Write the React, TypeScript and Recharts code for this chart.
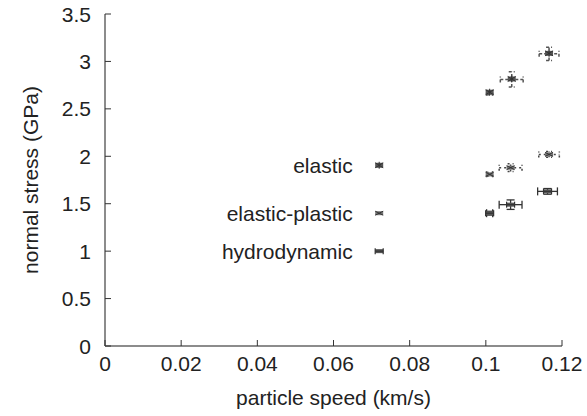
import { ScatterChart, Scatter, XAxis, YAxis, ErrorBar, LabelList } from 'recharts';

const X_TICKS = [0, 0.02, 0.04, 0.06, 0.08, 0.1, 0.12];
const Y_TICKS = [0, 0.5, 1, 1.5, 2, 2.5, 3, 3.5];

const ELASTIC_X = [0.101, 0.1068, 0.1166];
const ELASTIC_Y = [2.67, 2.81, 3.08];
const ELASTIC_XERR = [0.0008, 0.003, 0.0026];
const ELASTIC_YERR = [0.02, 0.08, 0.07];

const PLASTIC_X = [0.101, 0.1065, 0.1166];
const PLASTIC_Y = [1.81, 1.88, 2.02];
const PLASTIC_XERR = [0.0008, 0.003, 0.0027];
const PLASTIC_YERR = [0.02, 0.04, 0.03];

const HYDRO_X = [0.101, 0.1065, 0.1162];
const HYDRO_Y = [1.4, 1.49, 1.63];
const HYDRO_XERR = [0.0008, 0.003, 0.0026];
const HYDRO_YERR = [0.02, 0.05, 0.03];

const KEY_LABELS = ['elastic', 'elastic-plastic', 'hydrodynamic'];
const KEY_X = 0.072;
const KEY_Y = [1.9, 1.4, 1.0];

const FONT = '"Liberation Sans", Arial, sans-serif';
const FS = 21;
const TEXT = '#222';
const AXIS = '#666';
const INK = '#333';

const toRows = (xs: number[], ys: number[], ex: number[], ey: number[]) =>
  xs.map((x, i) => ({ x, y: ys[i], ex: ex[i], ey: ey[i] }));

const elastic = toRows(ELASTIC_X, ELASTIC_Y, ELASTIC_XERR, ELASTIC_YERR);
const plastic = toRows(PLASTIC_X, PLASTIC_Y, PLASTIC_XERR, PLASTIC_YERR);
const hydro = toRows(HYDRO_X, HYDRO_Y, HYDRO_XERR, HYDRO_YERR);
const keyRow = (i: number) => [{ x: KEY_X, y: KEY_Y[i], label: KEY_LABELS[i] }];

// small "smudge" markers, roughly like the scanned gnuplot points
const ElasticDot = ({ cx, cy }: any) => (
  <g fill={INK} stroke={INK}>
    <rect x={cx - 4} y={cy - 3} width={8} height={5} fill="#555" stroke="none" />
    <line x1={cx - 4} y1={cy - 3} x2={cx + 4} y2={cy + 2} strokeWidth={1} />
    <line x1={cx - 4} y1={cy + 2} x2={cx + 4} y2={cy - 3} strokeWidth={1} />
    <line x1={cx} y1={cy - 4} x2={cx} y2={cy + 3} strokeWidth={1} />
  </g>
);

const PlasticDot = ({ cx, cy }: any) => (
  <g stroke={INK}>
    <rect x={cx - 4} y={cy - 2} width={8} height={4} fill="#777" stroke="none" />
    <line x1={cx - 4} y1={cy - 2} x2={cx + 4} y2={cy + 2} strokeWidth={1} />
    <line x1={cx - 4} y1={cy + 2} x2={cx + 4} y2={cy - 2} strokeWidth={1} />
  </g>
);

const HydroDot = ({ cx, cy }: any) => (
  <g stroke={INK}>
    <rect x={cx - 4} y={cy - 2} width={8} height={4} fill="#555" stroke="none" />
    <line x1={cx - 4} y1={cy - 3} x2={cx - 4} y2={cy + 3} strokeWidth={1.2} />
    <line x1={cx + 4} y1={cy - 3} x2={cx + 4} y2={cy + 3} strokeWidth={1.2} />
    <line x1={cx - 4} y1={cy} x2={cx + 4} y2={cy} strokeWidth={1.2} />
  </g>
);

// inward ticks + labels
const BottomTick = ({ x, y, payload }: any) => (
  <g>
    <line x1={x} y1={y} x2={x} y2={y - 6} stroke={INK} />
    <text x={x} y={y + 25} textAnchor="middle" fontFamily={FONT} fontSize={FS} fill={TEXT}>
      {String(payload.value)}
    </text>
  </g>
);
const LeftTick = ({ x, y, payload }: any) => (
  <g>
    <line x1={x} y1={y} x2={x + 6} y2={y} stroke={INK} />
    <text x={x - 14} y={y + 7.5} textAnchor="end" fontFamily={FONT} fontSize={FS} fill={TEXT}>
      {String(payload.value)}
    </text>
  </g>
);
const TopTick = ({ x, y }: any) => <line x1={x} y1={y} x2={x} y2={y + 6} stroke={INK} />;
const RightTick = ({ x, y }: any) => <line x1={x} y1={y} x2={x - 6} y2={y} stroke={INK} />;

const XLabel = ({ viewBox }: any) => (
  <text
    x={viewBox.x + viewBox.width / 2}
    y={viewBox.y + 59}
    textAnchor="middle"
    fontFamily={FONT}
    fontSize={FS}
    fill={TEXT}
  >
    particle speed (km/s)
  </text>
);
const YLabel = ({ viewBox }: any) => {
  const cx = viewBox.x + 30;
  const cy = viewBox.y + viewBox.height / 2;
  return (
    <text
      x={cx}
      y={cy}
      transform={`rotate(-90, ${cx}, ${cy})`}
      textAnchor="middle"
      dominantBaseline="central"
      fontFamily={FONT}
      fontSize={FS}
      fill={TEXT}
    >
      normal stress (GPa)
    </text>
  );
};

const keyLabelStyle = { fontFamily: FONT, fontSize: FS, fill: TEXT };

export default function App() {
  return (
    <div style={{ position: 'absolute', left: 0, top: 0, background: '#fff' }}>
      <ScatterChart width={587} height={416} margin={{ top: 14, right: 25, bottom: 0, left: 0 }}>
        <XAxis
          xAxisId="b"
          type="number"
          dataKey="x"
          domain={[0, 0.12]}
          ticks={X_TICKS}
          interval={0}
          height={70}
          tickSize={0}
          tickMargin={0}
          tickLine={false}
          axisLine={{ stroke: AXIS, strokeWidth: 1.5 }}
          tick={<BottomTick />}
          label={<XLabel />}
        />
        <XAxis
          xAxisId="t"
          orientation="top"
          type="number"
          dataKey="x"
          domain={[0, 0.12]}
          ticks={X_TICKS}
          interval={0}
          height={0}
          tickSize={0}
          tickMargin={0}
          tickLine={false}
          axisLine={{ stroke: AXIS, strokeWidth: 1.5 }}
          tick={<TopTick />}
        />
        <YAxis
          yAxisId="l"
          type="number"
          dataKey="y"
          domain={[0, 3.5]}
          ticks={Y_TICKS}
          interval={0}
          width={105}
          tickSize={0}
          tickMargin={0}
          tickLine={false}
          axisLine={{ stroke: AXIS, strokeWidth: 1.5 }}
          tick={<LeftTick />}
          label={<YLabel />}
        />
        <YAxis
          yAxisId="r"
          orientation="right"
          type="number"
          dataKey="y"
          domain={[0, 3.5]}
          ticks={Y_TICKS}
          interval={0}
          width={0}
          tickSize={0}
          tickMargin={0}
          tickLine={false}
          axisLine={{ stroke: AXIS, strokeWidth: 1.5 }}
          tick={<RightTick />}
        />

        <Scatter xAxisId="b" yAxisId="l" data={elastic} shape={<ElasticDot />} isAnimationActive={false}>
          <ErrorBar dataKey="ex" direction="x" width={3} stroke="#555" strokeDasharray="3 2" isAnimationActive={false} />
          <ErrorBar dataKey="ey" direction="y" width={3} stroke="#555" strokeDasharray="3 2" isAnimationActive={false} />
        </Scatter>
        <Scatter xAxisId="b" yAxisId="l" data={plastic} shape={<PlasticDot />} isAnimationActive={false}>
          <ErrorBar dataKey="ex" direction="x" width={3} stroke="#444" strokeDasharray="2 3" isAnimationActive={false} />
          <ErrorBar dataKey="ey" direction="y" width={3} stroke="#444" strokeDasharray="2 3" isAnimationActive={false} />
        </Scatter>
        <Scatter xAxisId="b" yAxisId="l" data={hydro} shape={<HydroDot />} isAnimationActive={false}>
          <ErrorBar dataKey="ex" direction="x" width={4} stroke={INK} strokeWidth={1.3} isAnimationActive={false} />
          <ErrorBar dataKey="ey" direction="y" width={4} stroke={INK} strokeWidth={1.3} isAnimationActive={false} />
        </Scatter>

        <Scatter xAxisId="b" yAxisId="l" data={keyRow(0)} shape={<ElasticDot />} isAnimationActive={false}>
          <LabelList dataKey="label" position="left" offset={22} style={keyLabelStyle} />
        </Scatter>
        <Scatter xAxisId="b" yAxisId="l" data={keyRow(1)} shape={<PlasticDot />} isAnimationActive={false}>
          <LabelList dataKey="label" position="left" offset={22} style={keyLabelStyle} />
        </Scatter>
        <Scatter xAxisId="b" yAxisId="l" data={keyRow(2)} shape={<HydroDot />} isAnimationActive={false}>
          <LabelList dataKey="label" position="left" offset={22} style={keyLabelStyle} />
        </Scatter>
      </ScatterChart>
    </div>
  );
}
